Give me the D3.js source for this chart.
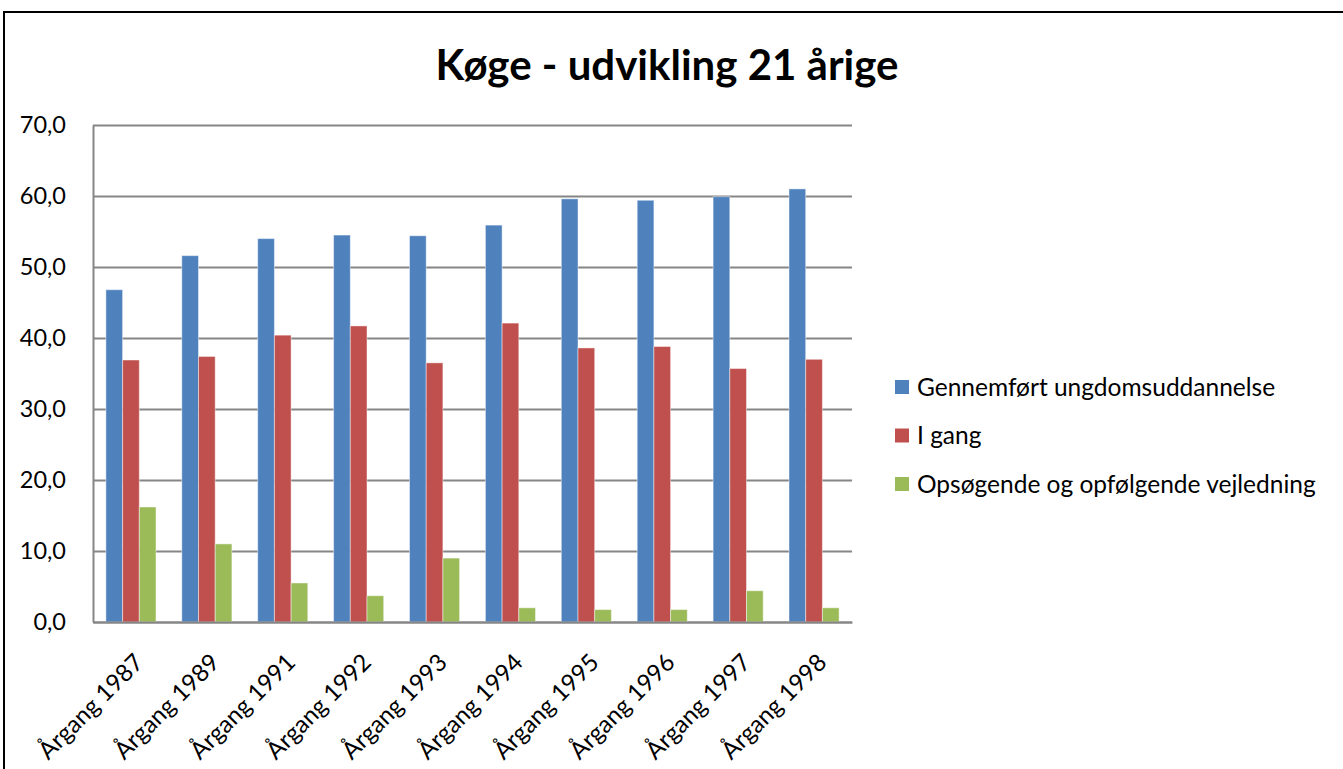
<!DOCTYPE html>
<html>
<head>
<meta charset="utf-8">
<script src="https://cdn.jsdelivr.net/npm/d3@7"></script>
<style>
  body { margin: 0; background: #fff; }
  svg { display: block; font-family: Lato, "Open Sans", sans-serif; }
</style>
</head>
<body>
<svg id="chart"></svg>
<script>
// chart data
const categories = ["Årgang 1987", "Årgang 1989", "Årgang 1991", "Årgang 1992", "Årgang 1993",
                    "Årgang 1994", "Årgang 1995", "Årgang 1996", "Årgang 1997", "Årgang 1998"];
const seriesNames = ["Gennemført ungdomsuddannelse", "I gang", "Opsøgende og opfølgende vejledning"];
const gennemfort = [46.8, 51.6, 54.0, 54.5, 54.4, 55.9, 59.6, 59.4, 59.9, 61.0];
const iGang = [36.9, 37.4, 40.4, 41.7, 36.5, 42.1, 38.6, 38.8, 35.7, 37.0];
const opsogende = [16.2, 11.0, 5.5, 3.7, 9.0, 2.0, 1.75, 1.75, 4.4, 2.0];
const yTicks = [0, 10, 20, 30, 40, 50, 60, 70];
const colors = ["#4F81BD", "#C0504D", "#9BBB59"];

const seriesValues = [gennemfort, iGang, opsogende];
const data = categories.map((c, i) => ({
    key: c,
    values: seriesValues.map((s, j) => ({ series: j, value: s[i] }))
}));

const width = 1343, height = 769;
const margin = { top: 125, left: 93, right: 491, bottom: 147 };
const plotW = width - margin.left - margin.right;
const plotH = height - margin.top - margin.bottom;

const svg = d3.select("#chart")
    .attr("width", width)
    .attr("height", height);

// outer chart border
svg.append("rect")
    .attr("x", 4)
    .attr("y", 12)
    .attr("width", width + 10)
    .attr("height", height + 10)
    .attr("fill", "none")
    .attr("stroke", "#000")
    .attr("stroke-width", 2);

// title
svg.append("text")
    .attr("x", 667)
    .attr("y", 80)
    .attr("text-anchor", "middle")
    .attr("font-size", "42px")
    .attr("font-weight", "bold")
    .attr("fill", "#000")
    .text("Køge - udvikling 21 årige");

const g = svg.append("g")
    .attr("transform", "translate(" + margin.left + "," + margin.top + ")");

const x0 = d3.scaleBand()
    .domain(categories)
    .range([0, plotW])
    .paddingInner(0.34)
    .paddingOuter(0.17);

const x1 = d3.scaleBand()
    .domain([0, 1, 2])
    .range([0, x0.bandwidth()]);

const y = d3.scaleLinear()
    .domain([0, 70])
    .range([plotH, 0]);

// gridlines
g.append("g")
    .call(d3.axisLeft(y).tickValues(yTicks).tickSize(-plotW).tickFormat(""))
    .call(a => a.select(".domain").remove())
    .selectAll("line")
    .attr("stroke", "#868686")
    .attr("stroke-width", 2);

// bars
const groups = g.selectAll(".grp")
    .data(data)
    .enter().append("g")
    .attr("class", "grp")
    .attr("transform", d => "translate(" + x0(d.key) + ",0)");

groups.selectAll("rect")
    .data(d => d.values)
    .enter().append("rect")
    .attr("x", d => x1(d.series))
    .attr("y", d => y(d.value))
    .attr("width", x1.bandwidth())
    .attr("height", d => plotH - y(d.value))
    .attr("fill", d => colors[d.series])
    .attr("stroke", "rgba(255,255,255,0.45)")
    .attr("stroke-width", 1);

// y axis
const yAxis = g.append("g")
    .call(d3.axisLeft(y).tickValues(yTicks).tickSize(0).tickPadding(27)
        .tickFormat(d => d3.format(".1f")(d).replace(".", ",")));
yAxis.select(".domain").attr("stroke", "#868686").attr("stroke-width", 2);
yAxis.selectAll("text")
    .style("font-family", "Lato, 'Open Sans', sans-serif")
    .style("font-size", "23.5px")
    .attr("fill", "#000");

// x axis
const xAxis = g.append("g")
    .attr("transform", "translate(0," + plotH + ")")
    .call(d3.axisBottom(x0).tickSize(0).tickFormat(""));
xAxis.select(".domain").attr("stroke", "#868686").attr("stroke-width", 2);

g.append("g")
    .selectAll("text")
    .data(categories)
    .enter().append("text")
    .attr("transform", d => "translate(" + (x0(d) + x0.bandwidth() / 2 + 14) + "," + (plotH + 42) + ") rotate(-45)")
    .attr("text-anchor", "end")
    .attr("font-size", "24px")
    .attr("fill", "#000")
    .text(d => d);

// legend
const legend = svg.append("g")
    .attr("transform", "translate(895,387)");

const items = legend.selectAll("g")
    .data(seriesNames)
    .enter().append("g")
    .attr("transform", (d, i) => "translate(0," + i * 48.5 + ")");

items.append("rect")
    .attr("x", 0)
    .attr("y", -7)
    .attr("width", 14)
    .attr("height", 14)
    .attr("fill", (d, i) => colors[i]);

items.append("text")
    .attr("x", 22)
    .attr("y", 0)
    .attr("dy", "0.35em")
    .attr("font-size", "24.5px")
    .attr("fill", "#000")
    .text(d => d);
</script>
</body>
</html>
